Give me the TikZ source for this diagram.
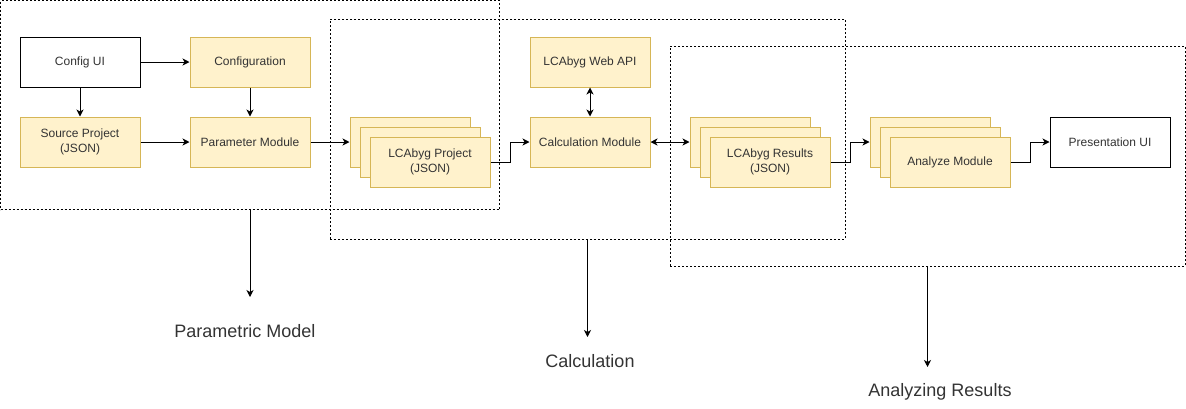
\documentclass[tikz,border=0pt]{standalone}
\usepackage{fontspec}
\setmainfont{Liberation Sans}
\usetikzlibrary{arrows.meta}
\definecolor{boxfill}{HTML}{FFF2CC}
\definecolor{boxline}{HTML}{D6B656}
\definecolor{txt}{HTML}{333333}
\begin{document}
\begin{tikzpicture}[x=1pt, y=-1pt, line width=1pt, >={Stealth[length=7pt, width=7pt, inset=2pt]},
    box/.style={draw=boxline, fill=boxfill, minimum width=120pt, minimum height=50pt, inner sep=0pt, align=center, text=txt, font=\fontsize{12}{15}\selectfont},
    plain/.style={box, draw=black, fill=white},
    group/.style={draw, dash pattern=on 2pt off 2pt, inner sep=0pt},
    caption/.style={text=txt, font=\fontsize{18}{21}\selectfont}]
    \useasboundingbox (0,0) rectangle (1186,408);
    \node [group, minimum width=499pt, minimum height=209pt] (grpA) at (250,105) {};
    \node [group, minimum width=515pt, minimum height=220pt] (grpB) at (587.5,129) {};
    \node [group, minimum width=515pt, minimum height=220pt] (grpC) at (927.5,156) {};
    \node [plain] (cfgui) at (80,62) {Config UI};
    \node [box] (config) at (250,62) {Configuration};
    \node [box] (source) at (80,142) {Source Project\\(JSON)};
    \node [box] (param) at (250,142) {Parameter Module};
    \node [box] (projA) at (410,142) {};
    \node [box] (projB) at (420,152) {};
    \node [box] (projC) at (430,162) {LCAbyg Project\\(JSON)};
    \node [box] (webapi) at (590,62) {LCAbyg Web API};
    \node [box] (calc) at (590,142) {Calculation Module};
    \node [box] (resA) at (750,142) {};
    \node [box] (resB) at (760,152) {};
    \node [box] (resC) at (770,162) {LCAbyg Results\\(JSON)};
    \node [box] (anaA) at (930,142) {};
    \node [box] (anaB) at (940,152) {};
    \node [box] (anaC) at (950,162) {Analyze Module};
    \node [plain] (present) at (1110,142) {Presentation UI};
    \draw [->] (cfgui) -- (config);
    \draw [->] (cfgui) -- (source);
    \draw [->] (config) -- (param);
    \draw [->] (source) -- (param);
    \draw [->] (param) -- (projA);
    \draw [->] (projC.east) -- ++(20,0) |- (calc);
    \draw [<->] (webapi) -- (calc);
    \draw [<->] (calc) -- (resA);
    \draw [->] (resC.east) -- ++(20,0) |- (anaA);
    \draw [->] (anaC.east) -- ++(20,0) |- (present);
    \node [caption] (capA) at (245,331) {Parametric Model};
    \node [caption] (capB) at (590,361) {Calculation};
    \node [caption] (capC) at (940,392) {Analyzing Results};
    \coordinate (tipA) at (250,297);
    \coordinate (tipB) at (587.5,337);
    \coordinate (tipC) at (927.5,367);
    \draw [->] (grpA.south) -- (tipA);
    \draw [->] (grpB.south) -- (tipB);
    \draw [->] (grpC.south) -- (tipC);
\end{tikzpicture}
\end{document}
